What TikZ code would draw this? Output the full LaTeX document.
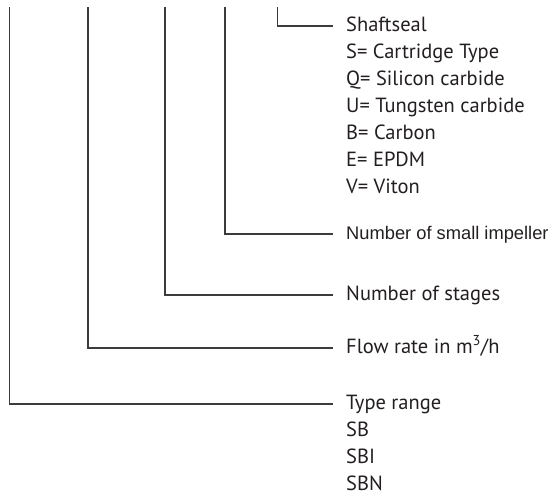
\documentclass[tikz,border=0pt]{standalone}
\usepackage{fontspec}
\setmainfont{PT Sans}
\newfontfamily\arialfont{Liberation Sans}
\usetikzlibrary{positioning}
\definecolor{inkgray}{HTML}{3C3C3C}
\definecolor{textblack}{HTML}{231F20}
\tikzset{
  lbl/.style={anchor=west,inner sep=0pt,text height=15pt,text depth=5pt,
    text=textblack,font=\fontsize{20.5}{24}\selectfont},
  item/.style={lbl,below=6.6pt of #1.south west,anchor=north west},
  lead/.style={draw=inkgray,line width=1.3pt,line cap=butt,shorten >=13pt}
}
\begin{document}
\begin{tikzpicture}[x=1pt,y=-1pt]
  \useasboundingbox (0,0) rectangle (553,496);
  % top ends of the leads
  \coordinate (c1) at (9.5,7);
  \coordinate (c2) at (88,7);
  \coordinate (c3) at (165,7);
  \coordinate (c4) at (225,7);
  \coordinate (c5) at (277.5,7);
  % shaft seal
  \node[lbl] (seal) at (346,26) {Shaftseal};
  \node[item=seal] (seal1) {S= Cartridge Type};
  \node[item=seal1] (seal2) {Q= Silicon carbide};
  \node[item=seal2] (seal3) {U= Tungsten carbide};
  \node[item=seal3] (seal4) {B= Carbon};
  \node[item=seal4] (seal5) {E= EPDM};
  \node[item=seal5] (seal6) {V= Viton};
  % small impeller
  \node[lbl,font=\arialfont\fontsize{18.3}{21}\selectfont] (impeller) at (346,234) {Number of small impeller};
  % stages
  \node[lbl] (stages) at (346,295) {Number of stages};
  % flow rate
  \node[lbl] (flow) at (346,348) {Flow rate in m\textsuperscript{3}/h};
  % type range
  \node[lbl] (range) at (346,404) {Type range};
  \node[item=range] (range1) {SB};
  \node[item=range1] (range2) {SBI};
  \node[item=range2] (range3) {SBN};
  \draw[lead] (c5) |- (seal.west);
  \draw[lead] (c4) |- (impeller.west);
  \draw[lead] (c3) |- (stages.west);
  \draw[lead] (c2) |- (flow.west);
  \draw[lead] (c1) |- (range.west);
\end{tikzpicture}
\end{document}
